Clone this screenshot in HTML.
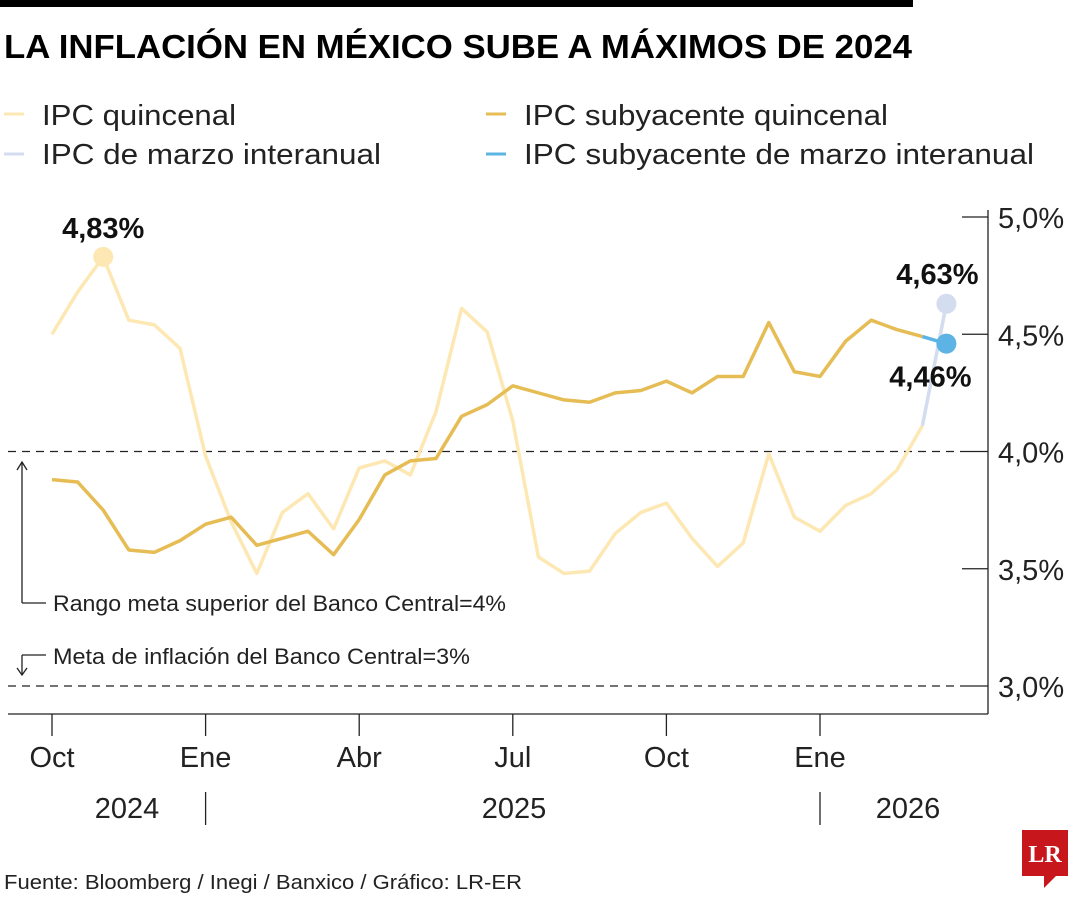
<!DOCTYPE html>
<html><head><meta charset="utf-8"><style>
body{margin:0;width:1080px;height:900px;background:#fff;font-family:"Liberation Sans",sans-serif;overflow:hidden}
</style></head><body>
<svg width="1080" height="900" xmlns="http://www.w3.org/2000/svg" font-family="Liberation Sans, sans-serif">
<rect x="0" y="0" width="913" height="7" fill="#000"/>
<text x="4" y="58" font-size="33" font-weight="bold" textLength="908" lengthAdjust="spacingAndGlyphs">LA INFLACIÓN EN MÉXICO SUBE A MÁXIMOS DE 2024</text>
<g font-size="29" fill="#222">
<line x1="4" y1="114" x2="24" y2="114" stroke="#fde8b4" stroke-width="3"/><text x="42" y="125" textLength="194" lengthAdjust="spacingAndGlyphs">IPC quincenal</text>
<line x1="4" y1="154" x2="24" y2="154" stroke="#d4dcef" stroke-width="3"/><text x="42" y="164" textLength="339" lengthAdjust="spacingAndGlyphs">IPC de marzo interanual</text>
<line x1="486" y1="114" x2="506" y2="114" stroke="#e6bd55" stroke-width="3"/><text x="524" y="125" textLength="364" lengthAdjust="spacingAndGlyphs">IPC subyacente quincenal</text>
<line x1="486" y1="154" x2="506" y2="154" stroke="#5db3e3" stroke-width="3"/><text x="524" y="164" textLength="510" lengthAdjust="spacingAndGlyphs">IPC subyacente de marzo interanual</text>
</g>
<g id="axes"></g>
<g id="marks"></g>
<g font-size="22" fill="#222">
<line x1="22" y1="462" x2="22" y2="603" stroke="#222" stroke-width="1.3"/><path d="M17 470 L22 462 L27 470" fill="none" stroke="#222" stroke-width="1.3"/>
<line x1="22" y1="603" x2="46" y2="603" stroke="#222" stroke-width="1.3"/>
<text x="53" y="611" textLength="453" lengthAdjust="spacingAndGlyphs">Rango meta superior del Banco Central=4%</text>
<line x1="22" y1="655" x2="46" y2="655" stroke="#222" stroke-width="1.3"/><line x1="22" y1="655" x2="22" y2="675" stroke="#222" stroke-width="1.3"/><path d="M17 668 L22 675 L27 668" fill="none" stroke="#222" stroke-width="1.3"/>
<text x="53" y="664" textLength="417" lengthAdjust="spacingAndGlyphs">Meta de inflación del Banco Central=3%</text>
</g>
<text x="4" y="889" font-size="20" fill="#222" textLength="518" lengthAdjust="spacingAndGlyphs">Fuente: Bloomberg / Inegi / Banxico / Gráfico: LR-ER</text>
<g><rect x="1022" y="830" width="46" height="46" fill="#c8161d"/><path d="M1044 876 L1044 888 L1056 876Z" fill="#c8161d"/><text x="1045" y="862" font-size="24" font-weight="bold" fill="#fff" text-anchor="middle" font-family="Liberation Serif, serif">LR</text></g>
</svg>
<script>
const quincenal=[4.50,4.68,4.83,4.56,4.54,4.44,3.98,3.70,3.48,3.74,3.82,3.67,3.93,3.96,3.90,4.17,4.61,4.51,4.13,3.55,3.48,3.49,3.65,3.74,3.78,3.63,3.51,3.61,3.99,3.72,3.66,3.77,3.82,3.92,4.11];
const subyacente=[3.88,3.87,3.75,3.58,3.57,3.62,3.69,3.72,3.60,3.63,3.66,3.56,3.71,3.90,3.96,3.97,4.15,4.20,4.28,4.25,4.22,4.21,4.25,4.26,4.30,4.25,4.32,4.32,4.55,4.34,4.32,4.47,4.56,4.52,4.49];
const marzoIPC=4.63, marzoSub=4.46;
const yTicks=[3.0,3.5,4.0,4.5,5.0];
const yTickLabels=["3,0%","3,5%","4,0%","4,5%","5,0%"];
const months=["Oct","Ene","Abr","Jul","Oct","Ene"];
const years=["2024","2025","2026"];
const NS="http://www.w3.org/2000/svg";
const y=v=>686-(v-3)*234.5;
const x=i=>52+i*25.6;
const xm=m=>52+m*51.2;
function mk(p,t,a){const e=document.createElementNS(NS,t);for(const k in a)e.setAttribute(k,a[k]);p.appendChild(e);return e;}
const ax=document.getElementById('axes'), mg=document.getElementById('marks');
let l=mk(ax,'line',{x1:8,y1:714,x2:988,y2:714,stroke:'#222','stroke-width':1.3});


l=mk(ax,'line',{x1:988,y1:210,x2:988,y2:714,stroke:'#222','stroke-width':1.3});


yTicks.forEach((v,i)=>{
 const t=mk(ax,'line',{x1:962,y1:y(v),x2:988,y2:y(v),stroke:'#222','stroke-width':1.3});
 
 
 if(v===3||v===4){const g=mk(ax,'line',{x1:8,y1:y(v),x2:962,y2:y(v),stroke:'#222','stroke-width':1.2,'stroke-dasharray':'8 6'});
 
 }
 const tx=mk(ax,'text',{x:998,y:y(v)+11,'font-size':29,fill:'#222'});tx.textContent=yTickLabels[i];
 
 
});
months.forEach((m,i)=>{
 const px=xm(i*3);
 const t=mk(ax,'line',{x1:px,y1:714,x2:px,y2:736,stroke:'#222','stroke-width':1.3});
 
 
 const tx=mk(ax,'text',{x:px,y:767,'font-size':29,fill:'#222','text-anchor':'middle'});tx.textContent=m;
 
 
});
[xm(3),xm(15)].forEach(px=>{const s=mk(ax,'line',{x1:px,y1:792,x2:px,y2:825,stroke:'#222','stroke-width':1.3});
 
 });
[[127,0],[514,1],[908,2]].forEach(([px,i])=>{const tx=mk(ax,'text',{x:px,y:818,'font-size':29,fill:'#222','text-anchor':'middle'});tx.textContent=years[i];
 
 });
const n=quincenal.length, xe=x(n-1)+24;
function line(arr,col,name){const p=mk(mg,'polyline',{points:arr.map((v,i)=>x(i)+','+y(v)).join(' '),fill:'none',stroke:col,'stroke-width':3.5,'stroke-linejoin':'round'});
 
 }
line(quincenal,'#fde8b4','ipc-quincenal-line');
line(subyacente,'#e6bd55','ipc-subyacente-line');
let s=mk(mg,'line',{x1:x(n-1),y1:y(quincenal[n-1]),x2:xe,y2:y(marzoIPC),stroke:'#d4dcef','stroke-width':3.5});


s=mk(mg,'line',{x1:x(n-1),y1:y(subyacente[n-1]),x2:xe,y2:y(marzoSub),stroke:'#5db3e3','stroke-width':3.5});


const mi=quincenal.indexOf(Math.max(...quincenal));
function dot(cx,cy,col,name){const c=mk(mg,'circle',{cx,cy,r:10,fill:col});
 
 }
dot(x(mi),y(quincenal[mi]),'#fde8b4','max-point');
dot(xe,y(marzoIPC),'#d4dcef','ipc-marzo-point');
dot(xe,y(marzoSub),'#5db3e3','subyacente-marzo-point');
function lab(tx,ty,v,name){const t=mk(mg,'text',{x:tx,y:ty,'font-size':29,'font-weight':'bold','text-anchor':'middle',fill:'#111'});t.textContent=v.toFixed(2).replace('.',',')+'%';
 
 }
lab(x(mi),y(quincenal[mi])-19,quincenal[mi],'max-label');
lab(xe-9,y(marzoIPC)-20,marzoIPC,'ipc-marzo-label');
lab(xe-16,y(marzoSub)+43,marzoSub,'subyacente-marzo-label');
</script>
</body></html>
